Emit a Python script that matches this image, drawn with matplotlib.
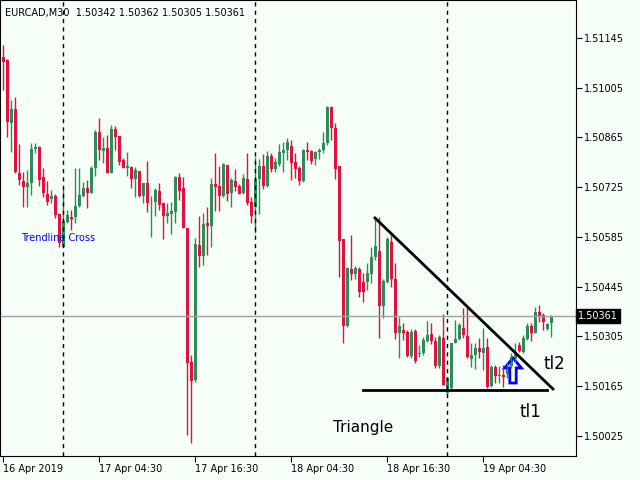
import matplotlib
matplotlib.use("Agg")
import matplotlib.pyplot as plt
from matplotlib.patches import FancyArrow
import numpy as np

# Candle readings (chart vertical scale units, converted below
# using the price axis calibration: 1.51145 and 1.50165 tick levels)
open_r = [57,60,123,109,173,181,187,183,149,147,177,194,199,196,214,247,222,217,217,206,196,188,193,168,132,151,148,173,129,136,160,168,167,179,171,196,183,
          201,202,191,203,216,214,212,177,188,228,362,380,245,256,223,226,184,186,196,165,193,181,186,193,179,202,207,179,166,186,156,169,164,153,150,146,162,168,181,150,151,159,152,150,143,107,128,166,
          239,326,269,274,269,282,282,274,257,251,306,282,242,279,333,330,332,356,331,354,353,341,334,341,366,338,393,388,343,339,328,336,359,355,348,353,347,386,367,376,375,374,366,359,345,352,339,326,333,312,315,329,323]
close_r = [62,122,109,172,180,187,183,149,147,180,193,202,196,215,243,221,215,219,206,195,188,193,168,132,150,148,173,129,137,162,168,166,179,170,196,183,203,
           201,190,205,216,213,211,177,191,228,363,381,244,256,224,226,184,187,196,164,194,180,187,194,178,203,216,179,166,186,156,169,162,152,150,142,163,169,181,150,152,161,152,150,143,107,128,169,241,
           326,268,274,268,292,292,273,257,246,306,281,239,279,333,326,333,356,332,361,353,340,335,341,366,337,385,378,343,339,325,335,357,355,348,352,348,387,367,376,375,377,367,357,352,351,338,326,333,312,316,322,324,316]
high_r = [45,59,100,97,144,172,170,143,143,146,168,181,190,194,213,188,210,210,168,168,182,180,166,130,118,137,135,125,126,136,158,152,166,167,171,183,161,
          196,188,183,202,203,202,176,173,177,228,355,238,216,213,207,178,153,166,163,165,178,169,184,174,153,197,157,159,154,151,153,158,144,142,138,140,153,166,149,142,150,151,148,132,106,106,123,166,
          239,267,235,266,267,273,263,247,218,217,279,237,235,263,317,323,330,329,329,345,337,321,323,337,335,314,377,343,320,323,308,306,343,343,338,328,338,365,365,366,365,363,353,343,342,335,323,323,307,305,313,323,315]
low_r = [90,137,152,173,185,207,207,195,153,186,197,205,203,218,247,247,223,230,223,207,197,208,193,176,160,163,173,173,150,165,168,176,188,197,197,203,212,
         237,216,210,239,223,234,223,200,228,435,443,382,267,265,255,247,211,211,197,201,207,191,194,194,205,223,233,214,189,187,172,172,166,172,160,180,178,185,182,160,164,165,159,153,145,140,179,277,
         343,327,280,279,297,302,290,283,260,338,318,283,287,339,358,340,357,358,363,357,355,342,344,368,368,385,394,389,343,340,338,358,367,369,358,370,388,387,383,383,387,378,368,362,352,353,340,341,333,322,330,330,337]

# price-axis calibration
ref_hi, ref_hi_r = 1.51145, 38.0
ref_lo, ref_lo_r = 1.50165, 386.0
def to_price(v):
    v = np.asarray(v, dtype=float)
    return ref_hi + (v - ref_hi_r) * (ref_lo - ref_hi) / (ref_lo_r - ref_hi_r)

O, C, H, L = map(to_price, (open_r, close_r, high_r, low_r))
n = len(O)
idx = np.arange(n)

price_ticks = [1.51145, 1.51005, 1.50865, 1.50725, 1.50585, 1.50445, 1.50305, 1.50165, 1.50025]
date_tick_pos = [0, 24, 48, 72, 96, 120]
date_labels = ["16 Apr 2019", "17 Apr 04:30", "17 Apr 16:30", "18 Apr 04:30", "18 Apr 16:30", "19 Apr 04:30"]
day_sep = [15, 63, 111]
last_price = 1.50361
title = "EURCAD,M30  1.50342 1.50362 1.50305 1.50361"

GREEN = "#2e8b57"
RED = "#e3103f"
BG = "#f5fff8"

fig = plt.figure(figsize=(6.4, 4.8), dpi=100)
fig.patch.set_facecolor(BG)
ax = fig.add_axes([0, 24/480, 576/640, 456/480])
ax.set_facecolor(BG)

up = C >= O
cols = np.where(up, GREEN, RED)
ax.vlines(idx, L, H, colors=cols, linewidth=1)
ax.bar(idx, np.abs(C - O) + 0.00001, bottom=np.minimum(O, C), width=0.75, color=cols, linewidth=0)

ax.set_xlim(-0.75, 143.25)
ax.set_ylim(to_price(456), to_price(0))

for d in day_sep:
    ax.axvline(d, color="black", linestyle=(0, (3, 3)), linewidth=1)
ax.axhline(last_price, color="#a0a0a0", linewidth=1)

# trend lines
ax.plot([93, 137.5], [to_price(218), to_price(389)], color="black", linewidth=2)
ax.plot([90, 136], [to_price(390), to_price(390)], color="black", linewidth=2)

# hollow arrow
arr = FancyArrow(127.5, to_price(383), 0, to_price(358) - to_price(383), width=1.6,
                 head_width=4.2, head_length=to_price(358) - to_price(368),
                 length_includes_head=True, facecolor="none", edgecolor="blue", linewidth=2)
ax.add_patch(arr)

ax.text(4.5, to_price(238), "Trendline Cross", color="blue", fontsize=7, va="center")
ax.text(82.5, to_price(427), "Triangle", color="black", fontsize=11, va="center")
ax.text(135, to_price(364), "tl2", color="black", fontsize=12, va="center")
ax.text(129, to_price(412), "tl1", color="black", fontsize=12, va="center")
ax.text(0.5, to_price(13), title, color="black", fontsize=7, va="center")

ax.yaxis.tick_right()
ax.set_yticks(price_ticks)
ax.set_yticklabels([f"{p:.5f}" for p in price_ticks], fontsize=7)
ax.tick_params(axis="y", length=4, pad=2)
ax.set_xticks(date_tick_pos)
ax.set_xticklabels(date_labels, fontsize=7, ha="left")
ax.tick_params(axis="x", length=4, pad=2)
for s in ax.spines.values():
    s.set_color("black")

ax.text(1.003, last_price, f"{last_price:.5f}", transform=ax.get_yaxis_transform(),
        fontsize=7, color="white", va="center", ha="left",
        bbox=dict(facecolor="black", edgecolor="black", pad=1.5))

fig.savefig("out.png", dpi=100, facecolor=BG)
